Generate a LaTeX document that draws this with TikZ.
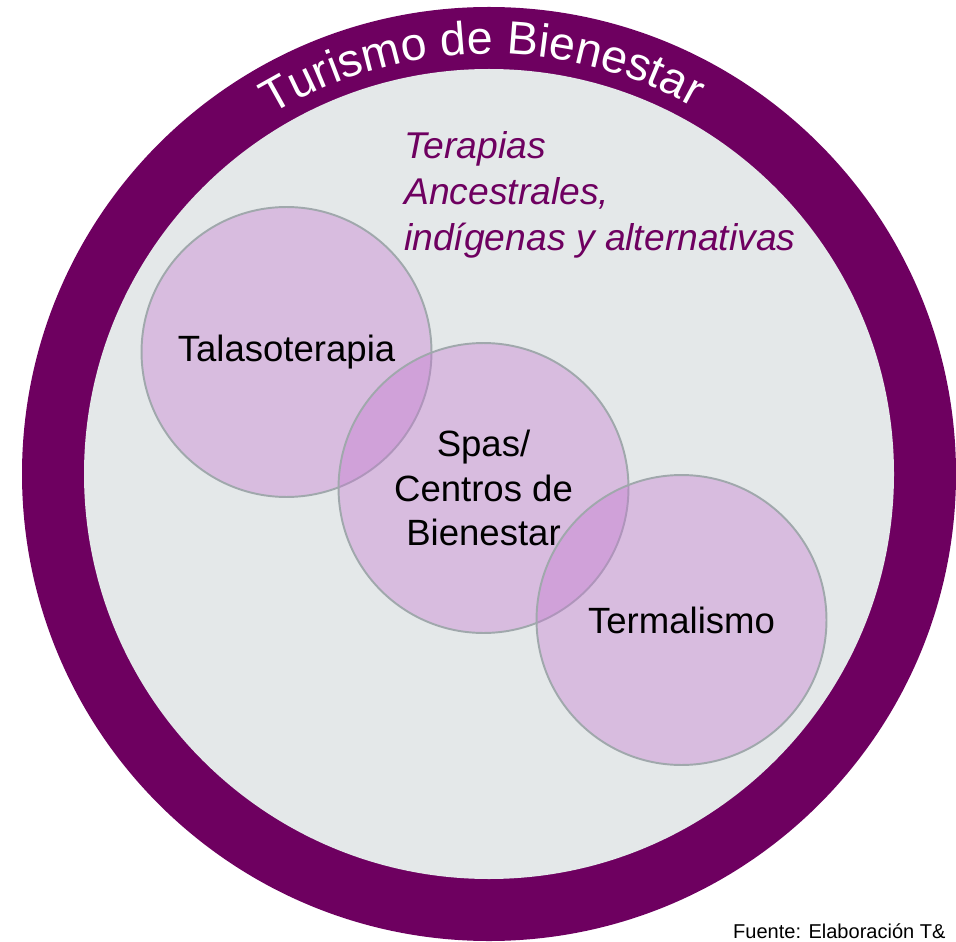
\documentclass[tikz,border=0pt]{standalone}
\usepackage{fontspec}
\setmainfont{Liberation Sans}
\usepackage{tikz}
\usetikzlibrary{decorations.text}

\definecolor{morado}{RGB}{110,0,96}
\definecolor{gris}{RGB}{228,232,233}
\definecolor{lila}{RGB}{198,122,210}
\definecolor{borde}{RGB}{160,168,172}

\begin{document}
\begin{tikzpicture}[x=0.02cm, y=0.02cm,
	zona/.style={circle, draw=borde, line width=1.1pt, fill=lila, fill opacity=0.4, text opacity=1, minimum size=5.8cm, inner sep=0pt, align=center, font=\fontsize{20.8}{25.5}\selectfont}]
	\useasboundingbox (0,0) rectangle (956,941);
	% anillo exterior
	\fill[morado] (489,467) circle (467);
	\fill[gris] (489,467) circle (405);
	\path[decorate, decoration={text along path, text align=center,
		text={|\color{white}\fontsize{26.5}{31}\selectfont|Turismo de Bienestar}}]
		(489,467) ++(151:420) arc[start angle=151, end angle=31, radius=420];
	% terapias
	\node[anchor=west, align=left, text=morado, font=\fontsize{21.2}{26.2}\selectfont\itshape] (terapias) at (398,746)
		{Terapias\\Ancestrales,\\ind\'igenas y alternativas};
	% circulos
	\node[zona] (talaso) at (286.5,589) {Talasoterapia};
	\node[zona] (spas) at (483.5,453) {Spas/\\Centros de\\Bienestar};
	\node[zona] (termal) at (681.5,321) {Termalismo};
	\node[anchor=base west, font=\fontsize{11.4}{13}\selectfont] (fuente) at (727,3) {Fuente: Elaboraci\'on T\&};
\end{tikzpicture}
\end{document}
